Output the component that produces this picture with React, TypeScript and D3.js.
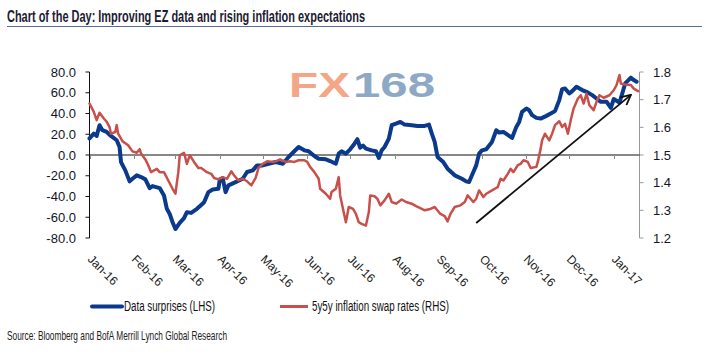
import React from "react";
import * as d3 from "d3";

const title = "Chart of the Day: Improving EZ data and rising inflation expectations";
const source = "Source: Bloomberg and BofA Merrill Lynch Global Research";
const seriesNames = ["Data surprises (LHS)", "5y5y inflation swap rates (RHS)"];

const monthTicks = [
  "2016-01-01", "2016-02-01", "2016-03-01", "2016-04-01", "2016-05-01", "2016-06-01", "2016-07-01",
  "2016-08-01", "2016-09-01", "2016-10-01", "2016-11-01", "2016-12-01", "2017-01-01",
];
const leftTicks = [80, 60, 40, 20, 0, -20, -40, -60, -80];
const rightTicks = [1.8, 1.7, 1.6, 1.5, 1.4, 1.3, 1.2];

// Data surprises (LHS)
const surprises: [string, number][] = [
  ["2016-01-01", 16], ["2016-01-04", 20.6], ["2016-01-06", 18.4], ["2016-01-08", 28.7], ["2016-01-10", 23.9],
  ["2016-01-13", 22.2], ["2016-01-16", 18.4], ["2016-01-20", 14.2], ["2016-01-22", 7.7], ["2016-01-23", -6.8],
  ["2016-01-26", -14.8], ["2016-01-29", -25.4], ["2016-01-31", -22.9], ["2016-02-03", -19.6], ["2016-02-06", -21.3],
  ["2016-02-09", -23.5], ["2016-02-12", -31.9], ["2016-02-14", -30], ["2016-02-19", -31.9], ["2016-02-22", -39],
  ["2016-02-24", -51.9], ["2016-02-26", -56.8], ["2016-02-28", -64.8], ["2016-03-01", -71.3], ["2016-03-04", -65.5],
  ["2016-03-07", -60.9], ["2016-03-09", -55.1], ["2016-03-12", -55.8], ["2016-03-16", -51.9], ["2016-03-19", -48.1],
  ["2016-03-21", -45.5], ["2016-03-24", -35.8], ["2016-03-27", -33.2], ["2016-03-31", -32.6], ["2016-04-01", -23.5],
  ["2016-04-03", -22.2], ["2016-04-05", -35.8], ["2016-04-07", -29.3], ["2016-04-12", -26.1], ["2016-04-17", -22.9],
  ["2016-04-20", -16.4], ["2016-04-24", -14.8], ["2016-04-27", -10], ["2016-05-01", -10], ["2016-05-05", -8.4],
  ["2016-05-10", -6.8], ["2016-05-15", -8.4], ["2016-05-19", -1.9], ["2016-05-23", 3.6], ["2016-05-26", 7.7],
  ["2016-05-30", 4.5], ["2016-06-02", 3.6], ["2016-06-06", -1], ["2016-06-09", -3.6], ["2016-06-14", -4.2],
  ["2016-06-17", -5.8], ["2016-06-21", -8.4], ["2016-06-23", 1.3], ["2016-06-25", 3.6], ["2016-06-28", 1.3],
  ["2016-07-01", 5.5], ["2016-07-04", 10.9], ["2016-07-06", 15.2], ["2016-07-08", 7], ["2016-07-10", 9],
  ["2016-07-12", 6.1], ["2016-07-16", 4.5], ["2016-07-19", 3.6], ["2016-07-21", -2.9], ["2016-07-23", 4.5],
  ["2016-07-25", 7.7], ["2016-07-28", 15.8], ["2016-07-30", 28.7], ["2016-08-02", 30.3], ["2016-08-05", 31.9],
  ["2016-08-08", 29.3], ["2016-08-13", 28.7], ["2016-08-17", 28], ["2016-08-22", 28], ["2016-08-25", 29.3],
  ["2016-08-27", 20.6], ["2016-08-29", 12.6], ["2016-08-31", -1.9], ["2016-09-04", -6.8], ["2016-09-07", -13.2],
  ["2016-09-12", -19.6], ["2016-09-17", -22.9], ["2016-09-20", -25.4], ["2016-09-22", -26.1], ["2016-09-25", -16.4],
  ["2016-09-27", -10], ["2016-09-29", 1.3], ["2016-10-01", 4.5], ["2016-10-04", 5.5], ["2016-10-08", 12.6],
  ["2016-10-11", 23.9], ["2016-10-13", 21.6], ["2016-10-16", 22.2], ["2016-10-20", 18.4], ["2016-10-22", 16.4],
  ["2016-10-25", 27.1], ["2016-10-27", 31.9], ["2016-10-29", 41.6], ["2016-11-01", 44.8], ["2016-11-03", 43.2],
  ["2016-11-05", 38.4], ["2016-11-08", 35.8], ["2016-11-11", 35.1], ["2016-11-15", 37.7], ["2016-11-18", 39.9],
  ["2016-11-21", 42.3], ["2016-11-24", 52.9], ["2016-11-26", 63.5], ["2016-11-28", 64.1], ["2016-12-01", 59.3],
  ["2016-12-03", 61.6], ["2016-12-06", 65.8], ["2016-12-10", 62.6], ["2016-12-13", 60.9], ["2016-12-17", 57.7],
  ["2016-12-20", 54.4], ["2016-12-23", 51.3], ["2016-12-27", 51.3], ["2016-12-30", 45.5], ["2017-01-01", 53.9],
  ["2017-01-05", 50.6], ["2017-01-07", 59.3], ["2017-01-09", 69], ["2017-01-13", 74.5], ["2017-01-15", 72.2],
  ["2017-01-17", 70.6],
];

// 5y5y inflation swap rates (RHS)
const swapRates: [string, number][] = [
  ["2016-01-01", 1.686], ["2016-01-04", 1.656], ["2016-01-06", 1.626], ["2016-01-08", 1.653], ["2016-01-11", 1.632],
  ["2016-01-13", 1.62], ["2016-01-15", 1.601], ["2016-01-16", 1.577], ["2016-01-19", 1.583], ["2016-01-20", 1.608],
  ["2016-01-21", 1.577], ["2016-01-24", 1.55], ["2016-01-28", 1.535], ["2016-01-31", 1.513], ["2016-02-03", 1.508],
  ["2016-02-05", 1.521], ["2016-02-06", 1.505], ["2016-02-09", 1.484], ["2016-02-11", 1.463], ["2016-02-13", 1.438],
  ["2016-02-17", 1.45], ["2016-02-19", 1.438], ["2016-02-22", 1.438], ["2016-02-25", 1.408], ["2016-02-28", 1.378],
  ["2016-03-01", 1.36], ["2016-03-03", 1.438], ["2016-03-04", 1.499], ["2016-03-07", 1.508], ["2016-03-09", 1.468],
  ["2016-03-11", 1.499], ["2016-03-14", 1.475], ["2016-03-17", 1.453], ["2016-03-19", 1.453], ["2016-03-23", 1.438],
  ["2016-03-26", 1.432], ["2016-03-28", 1.417], ["2016-03-31", 1.412], ["2016-04-03", 1.42], ["2016-04-06", 1.414],
  ["2016-04-09", 1.441], ["2016-04-11", 1.426], ["2016-04-14", 1.408], ["2016-04-17", 1.414], ["2016-04-20", 1.405],
  ["2016-04-23", 1.39], ["2016-04-26", 1.417], ["2016-04-28", 1.453], ["2016-05-01", 1.468], ["2016-05-04", 1.477],
  ["2016-05-08", 1.475], ["2016-05-10", 1.477], ["2016-05-13", 1.484], ["2016-05-17", 1.475], ["2016-05-20", 1.477],
  ["2016-05-23", 1.475], ["2016-05-26", 1.481], ["2016-05-30", 1.481], ["2016-06-01", 1.475], ["2016-06-03", 1.457],
  ["2016-06-06", 1.438], ["2016-06-09", 1.414], ["2016-06-10", 1.378], ["2016-06-14", 1.36], ["2016-06-17", 1.342],
  ["2016-06-18", 1.366], ["2016-06-21", 1.378], ["2016-06-23", 1.42], ["2016-06-24", 1.354], ["2016-06-26", 1.305],
  ["2016-06-28", 1.257], ["2016-06-30", 1.312], ["2016-07-03", 1.305], ["2016-07-05", 1.287], ["2016-07-07", 1.257],
  ["2016-07-09", 1.251], ["2016-07-12", 1.245], ["2016-07-14", 1.293], ["2016-07-15", 1.354], ["2016-07-18", 1.351],
  ["2016-07-20", 1.342], ["2016-07-22", 1.318], ["2016-07-25", 1.336], ["2016-07-28", 1.36], ["2016-07-30", 1.33],
  ["2016-08-02", 1.324], ["2016-08-06", 1.339], ["2016-08-09", 1.33], ["2016-08-13", 1.324], ["2016-08-16", 1.315],
  ["2016-08-20", 1.305], ["2016-08-22", 1.3], ["2016-08-26", 1.305], ["2016-08-29", 1.312], ["2016-09-02", 1.287],
  ["2016-09-05", 1.279], ["2016-09-07", 1.26], ["2016-09-09", 1.287], ["2016-09-12", 1.312], ["2016-09-16", 1.318],
  ["2016-09-19", 1.33], ["2016-09-21", 1.354], ["2016-09-25", 1.33], ["2016-09-27", 1.342], ["2016-09-29", 1.372],
  ["2016-10-02", 1.348], ["2016-10-04", 1.36], ["2016-10-08", 1.372], ["2016-10-10", 1.378], ["2016-10-12", 1.384],
  ["2016-10-14", 1.414], ["2016-10-16", 1.408], ["2016-10-19", 1.432], ["2016-10-21", 1.45], ["2016-10-23", 1.438],
  ["2016-10-26", 1.463], ["2016-10-28", 1.468], ["2016-10-30", 1.481], ["2016-11-02", 1.475], ["2016-11-04", 1.453],
  ["2016-11-08", 1.457], ["2016-11-09", 1.475], ["2016-11-11", 1.523], ["2016-11-12", 1.553], ["2016-11-14", 1.577],
  ["2016-11-17", 1.553], ["2016-11-19", 1.577], ["2016-11-21", 1.608], ["2016-11-24", 1.622], ["2016-11-26", 1.601],
  ["2016-11-28", 1.613], ["2016-11-30", 1.577], ["2016-12-02", 1.626], ["2016-12-04", 1.668], ["2016-12-07", 1.704],
  ["2016-12-09", 1.716], ["2016-12-11", 1.686], ["2016-12-13", 1.722], ["2016-12-15", 1.68], ["2016-12-18", 1.662],
  ["2016-12-20", 1.692], ["2016-12-22", 1.716], ["2016-12-25", 1.707], ["2016-12-29", 1.716], ["2017-01-01", 1.734],
  ["2017-01-03", 1.753], ["2017-01-05", 1.789], ["2017-01-06", 1.758], ["2017-01-09", 1.755], ["2017-01-13", 1.753],
  ["2017-01-15", 1.74], ["2017-01-18", 1.731],
];

// trend arrow annotation (date, LHS value)
const arrowFrom: [string, number] = ["2016-09-27", -65.5];
const arrowTo: [string, number] = ["2017-01-13", 58];

const xDomain = ["2016-01-01", "2017-01-19"];

const BLUE = "#0B3A8C";
const RED = "#C8504B";
const FONT = "'Liberation Sans', Arial, sans-serif";

export default function App() {
  const parse = d3.utcParse("%Y-%m-%d");
  const x = d3.scaleUtc().domain(xDomain.map((d) => parse(d) as Date)).range([89.5, 639.5]);
  const yL = d3.scaleLinear().domain([-80, 80]).range([238, 72]);
  const yR = d3.scaleLinear().domain([1.2, 1.8]).range([238, 72]);

  const lineL = d3
    .line<[string, number]>()
    .x((d) => x(parse(d[0]) as Date))
    .y((d) => yL(d[1]));
  const lineR = d3
    .line<[string, number]>()
    .x((d) => x(parse(d[0]) as Date))
    .y((d) => yR(d[1]));

  const y0 = yL(0);
  const ax1 = x(parse(arrowFrom[0]) as Date);
  const ay1 = yL(arrowFrom[1]);
  const ax2 = x(parse(arrowTo[0]) as Date);
  const ay2 = yL(arrowTo[1]);
  const tickFmt = d3.utcFormat("%b-%y");

  return (
    <svg
      width={702}
      height={359}
      style={{ position: "absolute", left: 0, top: 0, background: "#fff" }}
      fontFamily={FONT}
    >
      <defs>
        <marker id="ah" viewBox="0 0 12 12" refX="11" refY="6" markerWidth="12" markerHeight="12" orient="auto" markerUnits="userSpaceOnUse">
          <path d="M1,1 L11,6 L1,11" fill="none" stroke="#111" strokeWidth="1.8" />
        </marker>
      </defs>
      <rect x={0} y={0} width={702} height={359} fill="#fff" />

      {/* title */}
      <text x={7} y={22} fontSize={17} fontWeight="bold" fill="#1b1b33" textLength={358} lengthAdjust="spacingAndGlyphs">
        {title}
      </text>
      <line x1={7} x2={702} y1={26.5} y2={26.5} stroke="#5a6b98" strokeWidth={1.2} />

      {/* watermark */}
      <text x={289} y={97} fontSize={35} fontWeight="bold" fill="#F3A787" textLength={61} lengthAdjust="spacingAndGlyphs">
        FX
      </text>
      <text x={353} y={97} fontSize={35} fontWeight="bold" fill="#8DA9C6" textLength={82} lengthAdjust="spacingAndGlyphs">
        168
      </text>

      {/* left axis */}
      <line x1={89.5} x2={89.5} y1={yL(80)} y2={yL(-80)} stroke="#111" strokeWidth={1} />
      {leftTicks.map((t) => (
        <g key={"l" + t}>
          <line x1={85.5} x2={89.5} y1={yL(t)} y2={yL(t)} stroke="#111" />
          <text x={76} y={yL(t) + 4.5} fontSize={13} textAnchor="end" fill="#141428">
            {t.toFixed(1)}
          </text>
        </g>
      ))}

      {/* right axis */}
      <line x1={639.5} x2={639.5} y1={yR(1.8)} y2={yR(1.2)} stroke="#999" strokeWidth={1} />
      {rightTicks.map((t) => (
        <g key={"r" + t}>
          <line x1={639.5} x2={643.5} y1={yR(t)} y2={yR(t)} stroke="#999" />
          <text x={653} y={yR(t) + 4.5} fontSize={13} textAnchor="start" fill="#141428">
            {t.toFixed(1)}
          </text>
        </g>
      ))}

      {/* zero line with month ticks */}
      <line x1={89.5} x2={639.5} y1={y0} y2={y0} stroke="#111" strokeWidth={1} />
      {monthTicks.map((m) => {
        const tx = Math.round(x(parse(m) as Date)) + 0.5;
        return (
          <g key={m}>
            <line x1={tx} x2={tx} y1={y0} y2={y0 + 4} stroke="#888" />
            <text
              transform={`translate(${tx - 3.5},${260}) rotate(45)`}
              fontSize={12}
              fill="#222"
            >
              {tickFmt(parse(m) as Date)}
            </text>
          </g>
        );
      })}

      {/* series */}
      <path d={lineL(surprises) || ""} fill="none" stroke={BLUE} strokeWidth={4} strokeLinejoin="round" strokeLinecap="round" />
      <path d={lineR(swapRates) || ""} fill="none" stroke={RED} strokeWidth={2.5} strokeLinejoin="round" strokeLinecap="round" />

      {/* arrow */}
      <line x1={ax1} y1={ay1} x2={ax2} y2={ay2} stroke="#111" strokeWidth={1.8} markerEnd="url(#ah)" />

      {/* legend */}
      <line x1={92} x2={122} y1={306.5} y2={306.5} stroke={BLUE} strokeWidth={4} strokeLinecap="round" />
      <text x={124} y={311} fontSize={14} fill="#111" textLength={91} lengthAdjust="spacingAndGlyphs">
        {seriesNames[0]}
      </text>
      <line x1={280} x2={308} y1={306.5} y2={306.5} stroke={RED} strokeWidth={3} />
      <text x={312} y={311} fontSize={14} fill="#111" textLength={137} lengthAdjust="spacingAndGlyphs">
        {seriesNames[1]}
      </text>

      {/* source */}
      <text x={7} y={340} fontSize={13} fill="#222" textLength={220} lengthAdjust="spacingAndGlyphs">
        {source}
      </text>
    </svg>
  );
}
